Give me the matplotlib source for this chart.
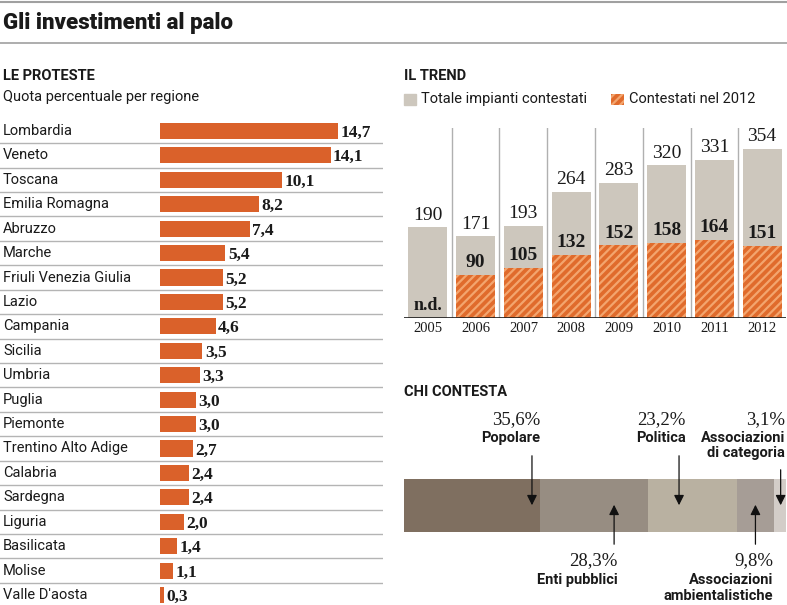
import numpy as np
import matplotlib
matplotlib.use('Agg')
import matplotlib.pyplot as plt
from matplotlib.patches import Rectangle, FancyArrowPatch
from matplotlib.lines import Line2D

# data
regions = ['Lombardia', 'Veneto', 'Toscana', 'Emilia Romagna', 'Abruzzo', 'Marche',
           'Friuli Venezia Giulia', 'Lazio', 'Campania', 'Sicilia', 'Umbria', 'Puglia',
           'Piemonte', 'Trentino Alto Adige', 'Calabria', 'Sardegna', 'Liguria',
           'Basilicata', 'Molise', "Valle D'aosta"]
quota = [14.7, 14.1, 10.1, 8.2, 7.4, 5.4, 5.2, 5.2, 4.6, 3.5, 3.3, 3.0, 3.0, 2.7,
         2.4, 2.4, 2.0, 1.4, 1.1, 0.3]

years = ['2005', '2006', '2007', '2008', '2009', '2010', '2011', '2012']
totale = [190, 171, 193, 264, 283, 320, 331, 354]
contestati = [None, 90, 105, 132, 152, 158, 164, 151]

chi_labels = ['Popolare', 'Enti pubblici', 'Politica', 'Associazioni\nambientalistiche',
              'Associazioni\ndi categoria']
chi_values = [35.6, 28.3, 23.2, 9.8, 3.1]
chi_colors = ['#7f6f60', '#978d82', '#b9b1a1', '#a69d96', '#d3cdc8']

W, H = 787, 605
ORANGE = '#da612a'
GRAY = '#cdc7bd'
LINE = '#b4b4b4'

SANS = ['Liberation Sans Narrow', 'Roboto', 'DejaVu Sans']
SERIF = ['Liberation Serif', 'DejaVu Serif']

plt.rcParams['hatch.linewidth'] = 1.6
plt.rcParams['hatch.color'] = '#f3a56e'


def rect(x0, y0, x1, y1):
    # pixel box (from top-left) -> figure fraction
    return [x0 / W, 1 - y1 / H, (x1 - x0) / W, (y1 - y0) / H]


def ftext(x, y, s, **kw):
    fig.text(x / W, 1 - y / H, s, **kw)


fig = plt.figure(figsize=(W / 100, H / 100), dpi=100)

# title and rules
fig.add_artist(Line2D([0, 1], [1 - 2 / H] * 2, color='#a0a0a0', lw=1.5))
fig.add_artist(Line2D([0, 1], [1 - 43 / H] * 2, color='#a0a0a0', lw=1.2))
ftext(3, 23, 'Gli investimenti al palo', family=SANS, weight='heavy', fontsize=16,
      va='center', color='#1a1a1a')

# ---- LE PROTESTE
ftext(3, 76, 'LE PROTESTE', family=SANS, weight='bold', fontsize=10.5, va='center',
      color='#1a1a1a')
ftext(3, 97, 'Quota percentuale per regione', family=SANS, fontsize=10.5, va='center',
      color='#1a1a1a')

px_unit = 12.1
row_h = 24.42
ax1 = fig.add_axes(rect(0, 131 - row_h / 2, 383, H))
n = len(regions)
y = np.arange(n)
ax1.barh(y, quota, height=0.66, color=ORANGE)
ax1.set_xlim(-160 / px_unit, 223 / px_unit)
ax1.set_ylim(-0.5 + (H - 131 + row_h / 2) / row_h, -0.5)
for i in range(n - 1):
    ax1.axhline(i + 0.5, color=LINE, lw=1)
for i, (r, v) in enumerate(zip(regions, quota)):
    ax1.text(-160 / px_unit + 0.25, i, r, family=SANS, fontsize=10.5, va='center',
             color='#1a1a1a')
    ax1.text(v + 0.2, i + 0.08, f'{v:.1f}'.replace('.', ','), family=SERIF,
             weight='bold', fontsize=12.5, va='center', color='#1a1a1a')
ax1.axis('off')

# ---- IL TREND
ftext(404, 76, 'IL TREND', family=SANS, weight='bold', fontsize=10.5, va='center',
      color='#1a1a1a')
fig.add_artist(Rectangle((404 / W, 1 - 105 / H), 12 / W, 11 / H, color=GRAY,
                         transform=fig.transFigure))
ftext(421, 99, 'Totale impianti contestati', family=SANS, fontsize=10.5, va='center',
      color='#1a1a1a')
fig.add_artist(Rectangle((611 / W, 1 - 105 / H), 13 / W, 11 / H, facecolor='#e06b2c',
                         hatch='////', edgecolor='#f3a56e', lw=0,
                         transform=fig.transFigure))
ftext(629, 99, 'Contestati nel 2012', family=SANS, fontsize=10.5, va='center',
      color='#1a1a1a')

ax2 = fig.add_axes(rect(404, 128, 786, 318))
x = np.arange(len(years))
ax2.bar(x, totale, width=0.82, color=GRAY, zorder=2)
cvals = [c if c is not None else 0 for c in contestati]
ax2.bar(x, cvals, width=0.82, facecolor='#e06b2c', edgecolor='#f3a56e', hatch='////',
        lw=0, zorder=3)
ax2.set_xlim(-0.5, len(years) - 0.5)
ax2.set_ylim(0, 190 / 0.477)
for i in range(len(years) - 1):
    ax2.axvline(i + 0.5, color='#b0b0b0', lw=1, zorder=1)
ax2.axhline(0, color='#1a1a1a', lw=1.2, zorder=4)
for i, t in enumerate(totale):
    ax2.text(i, t + 8, str(t), family=SERIF, fontsize=14, ha='center', va='bottom',
             color='#1a1a1a')
for i, c in enumerate(contestati):
    if c is None:
        ax2.text(i, 8, 'n.d.', family=SERIF, weight='bold', fontsize=13, ha='center',
                 va='bottom', color='#1a1a1a', zorder=5)
    else:
        ax2.text(i, c + 8, str(c), family=SERIF, weight='bold', fontsize=14,
                 ha='center', va='bottom', color='#1a1a1a', zorder=5)
for s in ax2.spines.values():
    s.set_visible(False)
ax2.set_yticks([])
ax2.set_xticks(x)
ax2.set_xticklabels(years, family=SERIF, fontsize=10.5, color='#1a1a1a')
ax2.tick_params(axis='x', length=0, pad=3)

# ---- CHI CONTESTA
ftext(404, 392, 'CHI CONTESTA', family=SANS, weight='bold', fontsize=10.5, va='center',
      color='#1a1a1a')
ax3 = fig.add_axes(rect(404, 479, 786, 532))
left = np.concatenate([[0], np.cumsum(chi_values)[:-1]])
ax3.barh(0, chi_values, left=left, height=1, color=chi_colors)
ax3.set_xlim(0, 100)
ax3.set_ylim(-0.5, 0.5)
ax3.axis('off')

# arrow x and label right edge (in % units), label above or below the bar
arrow_x = [33.5, 55.0, 72.0, 92.0, 98.6]
label_r = [35.6, 56.0, 73.8, 96.6, 99.7]
above = [True, False, True, False, True]
ppx = 382 / 100.0
for lab, v, ax_, lr, up in zip(chi_labels, chi_values, arrow_x, label_r, above):
    xpx = 404 + lr * ppx
    apx = 404 + ax_ * ppx
    pct = f'{v:.1f}%'.replace('.', ',')
    lines = lab.split('\n')
    if up:
        ftext(xpx, 420, pct, family=SERIF, fontsize=13.5, ha='right', va='center',
              color='#1a1a1a')
        for k, ln in enumerate(lines):
            ftext(xpx, 438 + 15.5 * k, ln, family=SANS, weight='bold', fontsize=10.5,
                  ha='right', va='center', color='#1a1a1a')
        y0 = 453 if len(lines) == 1 else 467
        fig.add_artist(FancyArrowPatch(
            (apx / W, 1 - y0 / H), (apx / W, 1 - 508 / H), transform=fig.transFigure,
            arrowstyle='-|>,head_length=4,head_width=2', mutation_scale=1.5,
            color='#111111', lw=0.9))
    else:
        ftext(xpx, 561, pct, family=SERIF, fontsize=13.5, ha='right', va='center',
              color='#1a1a1a')
        for k, ln in enumerate(lines):
            ftext(xpx, 580 + 16 * k, ln, family=SANS, weight='bold', fontsize=10.5,
                  ha='right', va='center', color='#1a1a1a')
        fig.add_artist(FancyArrowPatch(
            (apx / W, 1 - 547 / H), (apx / W, 1 - 502 / H), transform=fig.transFigure,
            arrowstyle='-|>,head_length=4,head_width=2', mutation_scale=1.5,
            color='#111111', lw=0.9))

fig.savefig('out.png', dpi=100)
